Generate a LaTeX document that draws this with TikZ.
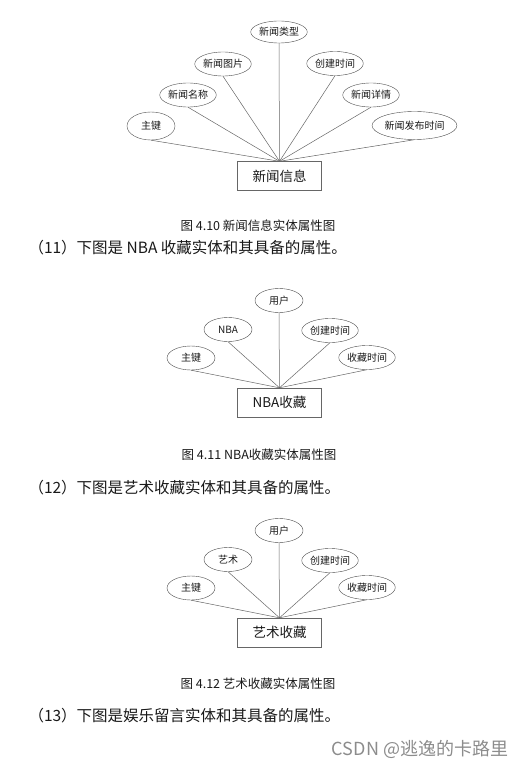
\documentclass[tikz,border=0pt]{standalone}
\usepackage{fontspec}
\setmainfont{Noto Sans CJK SC}
\usetikzlibrary{shapes.geometric}

\begin{document}
\begin{tikzpicture}[x=1pt, y=-1pt,
  attr/.style={ellipse, draw=black!70, minimum width=48pt, minimum height=24pt, inner sep=0pt, text=black!90, font=\fontsize{10}{11}\selectfont},
  entity/.style={rectangle, draw=black!60, minimum width=84pt, minimum height=29pt, inner sep=0pt, text=black!90, font=\fontsize{13.5}{14}\selectfont},
  link/.style={draw=black!60, line width=0.5pt},
  caption/.style={text=black!90, font=\fontsize{12.5}{13}\selectfont},
  para/.style={anchor=west, text=black!90, font=\fontsize{15.5}{16}\selectfont}]
\useasboundingbox (0,0) rectangle (532,778);

% news information entity
\node[entity] (news) at (279.5,176) {新闻信息};
\node[attr, minimum height=28pt] (n1) at (151,126) {主键};
\node[attr] (n2) at (188,95) {新闻名称};
\node[attr] (n3) at (223,64) {新闻图片};
\node[attr, minimum height=22pt] (n4) at (279,32) {新闻类型};
\node[attr] (n5) at (335,63.5) {创建时间};
\node[attr] (n6) at (371,95) {新闻详情};
\node[attr, minimum width=64pt, minimum height=28pt] (n7) at (414.5,125.5) {新闻发布时间};
\foreach \i in {1,...,7}
  \draw[link] (n\i.south) -- (news.north);
\node[caption] (cap1) at (258,226) {图 4.10 新闻信息实体属性图};
\node[para] (p11) at (25,248) {（11）下图是 NBA 收藏实体和其具备的属性。};

% NBA collection entity
\node[entity] (nba) at (279.5,402.5) {NBA收藏};
\node[attr] (b1) at (191,358) {主键};
\node[attr] (b2) at (228,329.5) {NBA};
\node[attr] (b3) at (279,300.5) {用户};
\node[attr] (b4) at (330,330.5) {创建时间};
\node[attr] (b5) at (367,357.5) {收藏时间};
\foreach \i in {1,...,5}
  \draw[link] (b\i.south) -- (nba.north);
\node[caption] (cap2) at (259,455) {图 4.11 NBA收藏实体属性图};
\node[para] (p12) at (25,487.5) {（12）下图是艺术收藏实体和其具备的属性。};

% art collection entity
\node[entity] (art) at (279.5,632.5) {艺术收藏};
\node[attr] (a1) at (191,588) {主键};
\node[attr] (a2) at (228,559.5) {艺术};
\node[attr] (a3) at (279,530.5) {用户};
\node[attr] (a4) at (330,560.5) {创建时间};
\node[attr] (a5) at (367,587.5) {收藏时间};
\foreach \i in {1,...,5}
  \draw[link] (a\i.south) -- (art.north);
\node[caption] (cap3) at (258,684) {图 4.12 艺术收藏实体属性图};
\node[para] (p13) at (25,715.5) {（13）下图是娱乐留言实体和其具备的属性。};

% watermark
\node[text=black!45, font=\fontsize{18}{19}\selectfont] (mark) at (420,749) {CSDN @逃逸的卡路里};
\end{tikzpicture}
\end{document}
